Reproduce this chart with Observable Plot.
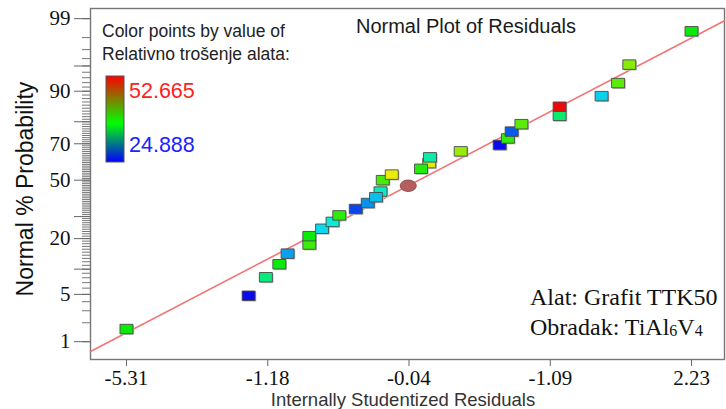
<!DOCTYPE html>
<html><head><meta charset="utf-8">
<script src="https://cdn.jsdelivr.net/npm/d3@7"></script>
<script src="https://cdn.jsdelivr.net/npm/@observablehq/plot@0.6"></script>
<style>body{margin:0;background:#fff}#chart{width:726px;height:409px}</style>
</head><body><div id="chart"></div>
<script>
// ---- data ----
// internally studentized residuals, in drawing order
const residuals = [-5.31, -3.68, -3.45, -3.27, -3.16, -2.87, -2.87, -2.70, -2.56, -2.47, -2.25, -2.09, -1.92, -1.98, -1.89, -1.77, -1.27, -1.38, -1.26, -0.85, -0.33, -0.22, -0.17, -0.04, 0.47, 0.47, 1.03, 1.25, 1.40, 2.23];
// normal % probability of each point
const probabilities = [1.6, 4.8, 8.1, 11.3, 14.5, 17.7, 21.0, 24.2, 27.4, 30.6, 33.9, 37.1, 43.5, 40.3, 50.0, 53.2, 59.7, 56.5, 62.9, 66.1, 69.4, 72.6, 75.8, 79.0, 82.3, 85.5, 88.7, 91.9, 95.2, 98.4];
// Relativno trošenje alata (colour value) of each point
const wearValues = [38.78, 24.89, 35.30, 38.78, 29.53, 40.44, 38.78, 31.28, 32.39, 39.89, 26.75, 29.05, 33.22, 30.44, 40.72, 45.72, 45.16, 39.61, 33.78, 43.22, 24.89, 39.89, 27.39, 41.28, 35.72, 52.665, 31.00, 41.28, 42.67, 38.78];
// highlighted point (drawn as an ellipse)
const highlightResidual = [-1.55];
const highlightProbability = [46.8];
// fitted normal line end points
const fitResidual = [-5.79, 2.67];
const fitProbability = [0.68, 98.92];
// axes
const xDomain = [-5.79, 2.67];
const xTickValues = [-5.31, -3.425, -1.54, 0.345, 2.23];
const xTickLabels = ["-5.31", "-1.18", "-0.04", "-1.09", "2.23"];
const yDomainPercent = [0.49, 99.33];
const yTickPercents = [1, 5, 20, 50, 70, 90, 99];
const yMediumPercents = [10, 30, 80, 95];
const yMinorPercents = d3.range(1, 100);
const colorDomain = [24.888, 52.665];
const colorLabels = ["52.665", "24.888"];

// inverse normal CDF (Acklam)
function probit(p) {
  const a=[-3.969683028665376e+01,2.209460984245205e+02,-2.759285104469687e+02,1.383577518672690e+02,-3.066479806614716e+01,2.506628277459239e+00];
  const b=[-5.447609879822406e+01,1.615858368580409e+02,-1.556989798598866e+02,6.680131188771972e+01,-1.328068155288572e+01];
  const c=[-7.784894002430293e-03,-3.223964580411365e-01,-2.400758277161838e+00,-2.549732539343734e+00,4.374664141464968e+00,2.938163982698783e+00];
  const d=[7.784695709041462e-03,3.224671290700398e-01,2.445134137142996e+00,3.754408661907416e+00];
  const pl=0.02425, ph=1-pl; let q, r;
  if (p < pl) { q=Math.sqrt(-2*Math.log(p)); return (((((c[0]*q+c[1])*q+c[2])*q+c[3])*q+c[4])*q+c[5])/((((d[0]*q+d[1])*q+d[2])*q+d[3])*q+1); }
  if (p > ph) { q=Math.sqrt(-2*Math.log(1-p)); return -(((((c[0]*q+c[1])*q+c[2])*q+c[3])*q+c[4])*q+c[5])/((((d[0]*q+d[1])*q+d[2])*q+d[3])*q+1); }
  q=p-0.5; r=q*q; return (((((a[0]*r+a[1])*r+a[2])*r+a[3])*r+a[4])*r+a[5])*q/(((((b[0]*r+b[1])*r+b[2])*r+b[3])*r+b[4])*r+1);
}
const z = p => probit(p / 100);

const points = residuals.map((x, i) => ({x, z: z(probabilities[i]), v: wearValues[i]}));
const highlight = highlightResidual.map((x, i) => ({x, z: z(highlightProbability[i])}));
const fit = fitResidual.map((x, i) => ({x, z: z(fitProbability[i])}));

const nearestLabel = (vals, labels) => v => {
  let best = 0;
  vals.forEach((t, i) => { if (Math.abs(t - v) < Math.abs(vals[best] - v)) best = i; });
  return labels[best];
};
const yMajorZ = yTickPercents.map(z);
const yLabel = nearestLabel(yMajorZ, yTickPercents.map(String));
const xLabel = nearestLabel(xTickValues, xTickLabels);

const rectSymbol = {draw(ctx) { const w = 13, h = 9.5;
  ctx.moveTo(-w/2, -h/2); ctx.lineTo(w/2, -h/2); ctx.lineTo(w/2, h/2); ctx.lineTo(-w/2, h/2); ctx.closePath(); }};
const ellipseSymbol = {draw(ctx) { const rx = 8, ry = 5.7, k = 0.5523;
  ctx.moveTo(rx, 0);
  ctx.bezierCurveTo(rx, ry*k, rx*k, ry, 0, ry);
  ctx.bezierCurveTo(-rx*k, ry, -rx, ry*k, -rx, 0);
  ctx.bezierCurveTo(-rx, -ry*k, -rx*k, -ry, 0, -ry);
  ctx.bezierCurveTo(rx*k, -ry, rx, -ry*k, rx, 0); ctx.closePath(); }};

const serif = "'Liberation Serif','Times New Roman',serif";
const sans = "'Liberation Sans',Arial,sans-serif";

const chart = Plot.plot({
  width: 726, height: 409,
  marginLeft: 90, marginRight: 2, marginTop: 8, marginBottom: 50,
  style: {background: "#fff", overflow: "visible"},
  x: {domain: xDomain},
  y: {domain: yDomainPercent.map(z)},
  color: {type: "linear", domain: colorDomain,
          interpolate: t => d3.hsl(240 * (1 - t), 0.92, 0.48).formatHex()},
  marks: [
    Plot.axisY({ticks: yMinorPercents.map(z), tickSize: 8, tickFormat: () => "", stroke: "#777", strokeOpacity: 1, label: null}),
    Plot.axisY({ticks: yMediumPercents.map(z), tickSize: 16, tickFormat: () => "", stroke: "#666", strokeOpacity: 1, label: null}),
    Plot.axisY({ticks: yMajorZ, tickSize: 16, tickPadding: 4, tickFormat: yLabel, stroke: "#666", strokeOpacity: 1,
                fill: "#111", fontSize: 21, fontFamily: serif, label: null}),
    Plot.axisX({ticks: xTickValues, tickSize: 7, tickPadding: 4, tickFormat: xLabel, stroke: "#666", strokeOpacity: 1,
                fill: "#111", fontSize: 21, fontFamily: serif, label: null}),
    Plot.frame({stroke: "#767676", strokeWidth: 1.4}),
    Plot.line(fit, {x: "x", y: "z", stroke: "#f27474", strokeWidth: 1.6}),
    Plot.dot(points, {x: "x", y: "z", symbol: rectSymbol, fill: "#c4c4c4", stroke: "none", dx: 1.2, dy: 1.2}),
    Plot.dot(points, {x: "x", y: "z", symbol: rectSymbol, fill: "v", stroke: "#4a4a4a", strokeWidth: 0.9}),
    Plot.dot(highlight, {x: "x", y: "z", symbol: ellipseSymbol, fill: "#b55e5e", stroke: "#8a4545", strokeWidth: 0.9})
  ]
});
document.getElementById("chart").appendChild(chart);

const svg = d3.select(chart);
const addText = (x, y, txt, opts) => {
  const t = svg.append("text").attr("x", x).attr("y", y)
    .attr("text-anchor", opts.anchor || "start")
    .attr("font-family", opts.family || sans).attr("font-size", opts.size)
    .attr("fill", opts.fill || "#111");
  if (txt != null) t.text(txt);
  return t;
};
// titles
addText(466, 33, "Normal Plot of Residuals", {anchor: "middle", size: 20, fill: "#1a1a1a"});
addText(403, 406, "Internally Studentized Residuals", {anchor: "middle", size: 18.5, fill: "#333"});
svg.append("text").attr("transform", "translate(33,189) rotate(-90)").attr("text-anchor", "middle")
  .attr("font-family", sans).attr("font-size", 23).attr("fill", "#111").text("Normal % Probability");
// legend
addText(102, 36.5, "Color points by value of", {size: 17.5, fill: "#222"});
addText(102, 59.5, "Relativno trošenje alata:", {size: 17.5, fill: "#222"});
const grad = svg.append("defs").append("linearGradient").attr("id", "wearGrad")
  .attr("x1", 0).attr("y1", 0).attr("x2", 0).attr("y2", 1);
grad.append("stop").attr("offset", "0%").attr("stop-color", "#ff0000");
grad.append("stop").attr("offset", "55%").attr("stop-color", "#00ff00");
grad.append("stop").attr("offset", "100%").attr("stop-color", "#0000ff");
svg.append("rect").attr("x", 106).attr("y", 76).attr("width", 18).attr("height", 86)
  .attr("fill", "url(#wearGrad)").attr("stroke", "#555").attr("stroke-width", 1);
addText(129, 97.5, colorLabels[0], {size: 21.5, fill: "#ff2020"});
addText(129, 152, colorLabels[1], {size: 21.5, fill: "#2020ff"});
// annotation
addText(530, 305, "Alat: Grafit TTK50", {family: serif, size: 24});
const ob = addText(530, 335, null, {family: serif, size: 24});
ob.append("tspan").text("Obradak: TiAl");
ob.append("tspan").attr("font-size", 16).attr("dy", 1).text("6");
ob.append("tspan").attr("dy", -1).text("V");
ob.append("tspan").attr("font-size", 16).attr("dy", 1).text("4");
</script>
</body></html>
